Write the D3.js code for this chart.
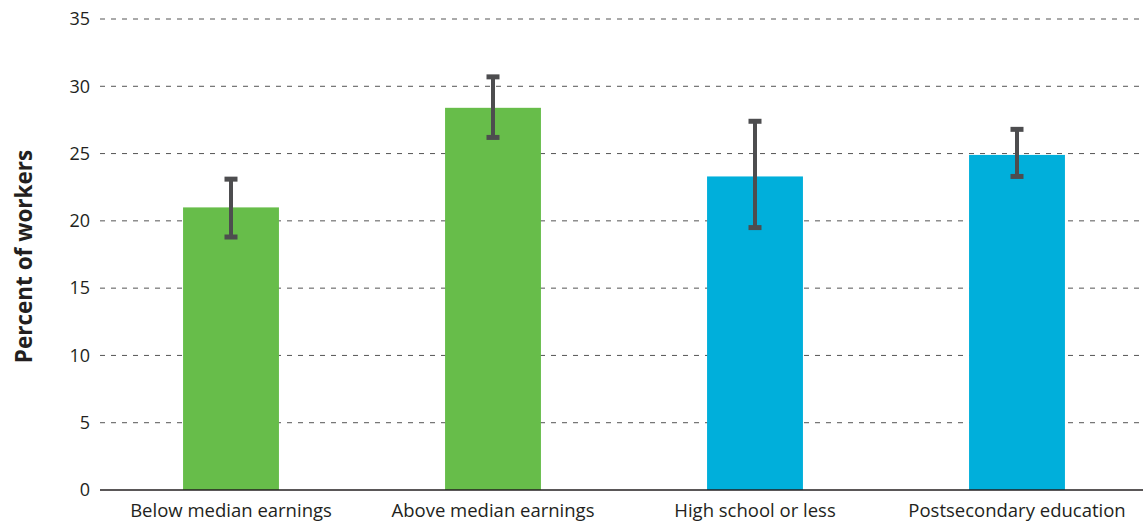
<!DOCTYPE html>
<html>
<head>
<meta charset="utf-8">
<script src="https://cdn.jsdelivr.net/npm/d3@7"></script>
<style>
  body { margin: 0; background: #fff; }
  text { font-family: "Open Sans", "Noto Sans", sans-serif; fill: #231f20; }
</style>
</head>
<body>
<div id="chart"></div>
<script>
// data
const categories = ["Below median earnings", "Above median earnings", "High school or less", "Postsecondary education"];
const values = [21.0, 28.4, 23.3, 24.9];
const errLow = [18.8, 26.2, 19.5, 23.3];
const errHigh = [23.1, 30.7, 27.4, 26.8];
const groups = ["earnings", "earnings", "education", "education"];
const yTicks = [0, 5, 10, 15, 20, 25, 30, 35];

const width = 1143, height = 523;
const margin = { top: 19, right: 0, bottom: 33, left: 100 };

const svg = d3.select("#chart").append("svg")
  .attr("width", width)
  .attr("height", height);

const x = d3.scaleBand()
  .domain(categories)
  .range([margin.left, margin.left + 262 * 4])
  .paddingInner(0.634)
  .paddingOuter(0.317);

const y = d3.scaleLinear()
  .domain([0, 35])
  .range([height - margin.bottom, margin.top]);

const color = d3.scaleOrdinal()
  .domain(["earnings", "education"])
  .range(["#67bd4a", "#00afdb"]);

// gridlines
svg.append("g")
  .selectAll("line")
  .data(yTicks.filter(d => d > 0))
  .enter()
  .append("line")
  .attr("x1", margin.left)
  .attr("x2", width)
  .attr("y1", d => y(d))
  .attr("y2", d => y(d))
  .attr("stroke", "#555")
  .attr("stroke-width", 1)
  .attr("stroke-dasharray", "5,6");

// y axis labels
const yAxis = d3.axisLeft(y).tickValues(yTicks).tickSize(0).tickPadding(10);
const yg = svg.append("g")
  .attr("transform", `translate(${margin.left},0)`)
  .call(yAxis);
yg.select(".domain").remove();
yg.selectAll("text")
  .style("font-size", "18px")
  .style("font-family", "\"Open Sans\", sans-serif")
  .attr("fill", "#231f20");

// bars
const idx = d3.range(categories.length);
svg.append("g")
  .selectAll("rect")
  .data(idx)
  .enter()
  .append("rect")
  .attr("x", i => x(categories[i]))
  .attr("width", x.bandwidth())
  .attr("y", i => y(values[i]))
  .attr("height", i => y(0) - y(values[i]))
  .attr("fill", i => color(groups[i]));

// error bars
const eb = svg.append("g").attr("stroke", "#4d4d4f");
eb.selectAll("line.stem")
  .data(idx)
  .enter()
  .append("line")
  .attr("class", "stem")
  .attr("x1", i => x(categories[i]) + x.bandwidth() / 2)
  .attr("x2", i => x(categories[i]) + x.bandwidth() / 2)
  .attr("y1", i => y(errLow[i]))
  .attr("y2", i => y(errHigh[i]))
  .attr("stroke-width", 4);
["low", "high"].forEach(k => {
  eb.selectAll("line.cap-" + k)
    .data(idx)
    .enter()
    .append("line")
    .attr("class", "cap-" + k)
    .attr("x1", i => x(categories[i]) + x.bandwidth() / 2 - 6.5)
    .attr("x2", i => x(categories[i]) + x.bandwidth() / 2 + 6.5)
    .attr("y1", i => y(k === "low" ? errLow[i] : errHigh[i]))
    .attr("y2", i => y(k === "low" ? errLow[i] : errHigh[i]))
    .attr("stroke-width", 5);
});

// x axis
const xAxis = d3.axisBottom(x).tickSize(0);
const xg = svg.append("g")
  .attr("transform", `translate(0,${y(0)})`)
  .call(xAxis);
xg.select(".domain").remove();
xg.selectAll("text")
  .attr("y", 27)
  .attr("dy", 0)
  .style("font-size", "18.5px")
  .style("font-family", "\"Open Sans\", sans-serif")
  .attr("fill", "#231f20");

svg.append("line")
  .attr("x1", margin.left)
  .attr("x2", width)
  .attr("y1", y(0))
  .attr("y2", y(0))
  .attr("stroke", "#231f20")
  .attr("stroke-width", 1.5);

// axis title
svg.append("text")
  .attr("transform", `translate(32, ${(y(0) + y(35)) / 2 + 2}) rotate(-90)`)
  .attr("text-anchor", "middle")
  .style("font-size", "22.5px")
  .style("font-weight", "bold")
  .text("Percent of workers");
</script>
</body>
</html>
